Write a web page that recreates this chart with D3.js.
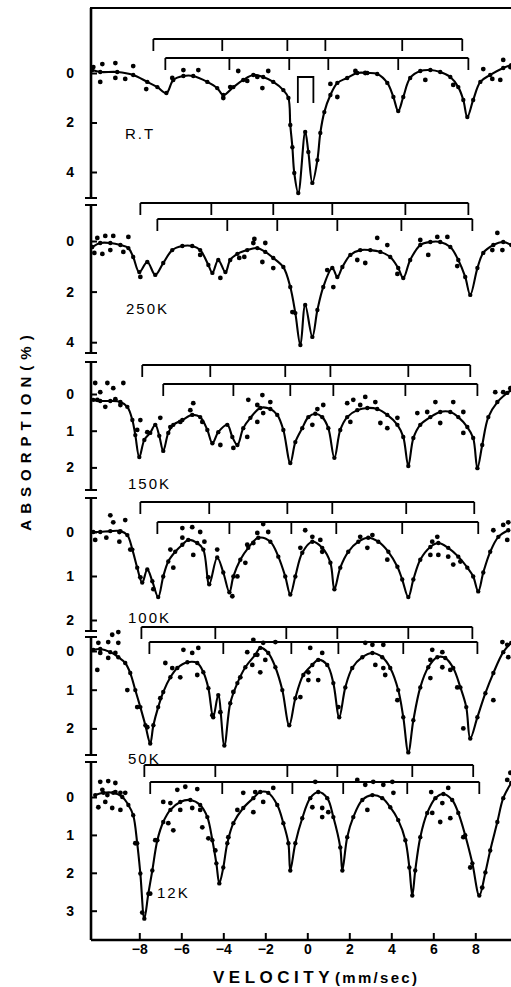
<!DOCTYPE html>
<html><head><meta charset="utf-8">
<script src="https://cdn.jsdelivr.net/npm/d3@7"></script>
<style>body{margin:0;background:#fff;overflow:hidden} svg{display:block}</style>
</head><body>
<script>
// ---------------- DATA ----------------
const panelLabels = ["R.T", "250K", "150K", "100K", "50K", "12K"];
const yTickValues = [[0, 2, 4], [0, 2, 4], [0, 1, 2], [0, 1, 2], [0, 1, 2], [0, 1, 2, 3]];
const xTickValues = [-8, -6, -4, -2, 0, 2, 4, 6, 8];

// fitted curves [velocity mm/s, absorption %]
const fitRT = [[-10.24,-0.12],[-9.86,-0.04],[-9.05,-0.04],[-8.29,0.08],[-7.62,0.36],[-7.14,0.57],[-6.71,0.81],[-6.38,0.28],[-5.90,0.12],[-5.43,0.12],[-4.76,0.36],[-4.29,0.61],[-4.0,0.89],[-3.52,0.57],[-3.05,0.28],[-2.57,0.08],[-2.10,0.16],[-1.62,0.36],[-1.14,0.69],[-0.90,1.01],[-0.81,2.10],[-0.71,3.0],[-0.62,4.04],[-0.43,4.85],[-0.10,2.38],[0.05,3.19],[0.24,4.44],[0.48,3.52],[0.62,2.42],[0.81,1.58],[1.10,0.89],[1.43,0.40],[1.90,0.20],[2.38,0.0],[2.86,0.0],[3.33,0.04],[3.81,0.40],[4.10,0.97],[4.33,1.54],[4.57,0.97],[4.90,0.20],[5.38,-0.08],[5.86,-0.12],[6.33,-0.04],[6.81,0.16],[7.19,0.57],[7.43,1.09],[7.62,1.78],[7.90,1.09],[8.24,0.36],[8.71,0.08],[9.33,-0.2],[9.71,-0.32]];
const dotsRT = [[-9.86,0.36],[-10.19,-0.24],[-9.76,-0.36],[-9.14,-0.40],[-9.14,0.20],[-8.67,0.24],[-8.29,-0.28],[-7.67,0.65],[-6.43,0.20],[-5.90,-0.12],[-5.19,-0.12],[-4.0,1.01],[-3.67,0.57],[-3.29,-0.08],[-2.86,0.32],[-2.38,0.16],[-2.14,0.61],[-1.86,-0.08],[1.10,0.44],[1.43,0.97],[2.29,-0.08],[2.76,0.0],[5.62,0.28],[6.95,0.48],[8.38,-0.16],[8.81,0.24],[9.19,0.28],[9.33,-0.53],[9.67,-0.24]];

const fit250 = [[-10.24,0.24],[-9.86,0.08],[-9.38,0.08],[-8.90,0.16],[-8.52,0.28],[-8.29,0.63],[-8.0,1.23],[-7.62,0.83],[-7.24,1.34],[-6.86,0.87],[-6.43,0.36],[-5.95,0.20],[-5.48,0.20],[-5.10,0.36],[-4.71,0.95],[-4.52,1.26],[-4.24,0.75],[-3.90,1.23],[-3.67,0.75],[-3.33,0.51],[-2.86,0.36],[-2.38,0.28],[-2.0,0.43],[-1.62,0.67],[-1.14,1.03],[-0.81,1.82],[-0.57,2.85],[-0.33,4.11],[-0.10,2.53],[0.24,3.79],[0.48,2.73],[0.76,1.82],[1.19,1.07],[1.43,1.42],[1.67,1.03],[2.05,0.55],[2.52,0.36],[3.0,0.36],[3.48,0.43],[3.95,0.63],[4.33,1.07],[4.57,1.46],[4.90,0.75],[5.38,0.16],[5.86,0.04],[6.33,0.04],[6.81,0.24],[7.19,0.75],[7.52,1.42],[7.76,2.13],[8.10,1.07],[8.38,0.47],[8.86,0.16],[9.33,0.04],[9.71,0.16]];
const dots250 = [[-10.0,-0.12],[-9.62,-0.2],[-9.24,-0.2],[-8.52,-0.16],[-10.14,0.47],[-9.76,0.51],[-9.38,0.36],[-8.76,0.43],[-7.95,1.42],[-5.10,0.55],[-4.14,1.46],[-3.24,0.67],[-3.0,0.63],[-2.57,0.08],[-2.52,-0.08],[-2.0,0.08],[-2.14,0.83],[-1.62,1.07],[-0.71,2.81],[0.95,1.15],[1.24,1.82],[2.38,0.75],[2.76,0.87],[3.33,-0.12],[3.81,0.16],[4.29,1.30],[5.38,-0.04],[5.76,0.55],[6.19,-0.16],[6.67,-0.16],[7.14,0.99],[9.05,-0.32],[8.81,0.36],[9.29,0.36]];

const fit150 = [[-10.19,0.16],[-9.86,0.19],[-9.38,0.19],[-8.90,0.22],[-8.57,0.35],[-8.33,0.71],[-8.19,1.12],[-8.0,1.72],[-7.76,1.25],[-7.48,1.06],[-7.24,0.84],[-7.05,1.14],[-6.86,1.55],[-6.62,1.06],[-6.38,0.84],[-5.95,0.71],[-5.48,0.57],[-5.10,0.63],[-4.76,0.98],[-4.52,1.34],[-4.24,1.04],[-3.81,0.84],[-3.57,1.17],[-3.33,1.39],[-3.05,0.93],[-2.71,0.65],[-2.24,0.38],[-1.76,0.41],[-1.43,0.57],[-1.14,0.98],[-0.81,1.88],[-0.57,1.31],[-0.24,0.93],[0.05,0.63],[0.38,0.54],[0.71,0.63],[1.0,0.93],[1.29,1.74],[1.57,0.98],[1.90,0.63],[2.38,0.44],[2.86,0.38],[3.33,0.41],[3.81,0.57],[4.29,0.84],[4.57,1.17],[4.81,1.96],[5.05,1.20],[5.38,0.84],[5.86,0.63],[6.33,0.49],[6.81,0.49],[7.19,0.63],[7.62,0.90],[7.90,1.20],[8.10,2.02],[8.33,1.39],[8.62,0.63],[9.05,0.22],[9.52,-0.03],[9.71,-0.11]];
const dots150 = [[-10.10,-0.30],[-9.86,-0.05],[-9.52,-0.30],[-9.24,-0.16],[-8.76,-0.30],[-10.0,0.16],[-9.62,0.35],[-9.14,0.14],[-8.90,0.30],[-8.10,0.98],[-7.95,0.71],[-7.62,1.04],[-7.0,0.65],[-6.52,0.90],[-6.05,0.76],[-5.57,0.44],[-5.43,0.25],[-5.0,0.76],[-4.14,1.39],[-3.52,1.47],[-2.86,1.17],[-2.81,0.16],[-2.38,0.30],[-2.38,0.76],[-2.10,0.52],[-1.76,0.22],[-2.14,0.03],[0.24,0.84],[0.48,0.41],[0.76,0.30],[1.90,0.25],[2.19,0.16],[2.76,0.08],[3.24,0.22],[2.52,0.30],[2.05,0.76],[3.48,0.79],[4.29,0.65],[3.81,0.93],[5.24,0.52],[5.71,0.49],[6.10,0.22],[6.95,0.22],[7.43,0.49],[6.33,0.79],[7.43,1.06],[8.95,-0.05],[9.33,-0.05],[9.67,-0.16]];

const fit100 = [[-10.19,0],[-9.86,0],[-9.38,-0.02],[-8.90,-0.02],[-8.57,0.07],[-8.33,0.40],[-8.10,0.81],[-7.86,1.15],[-7.62,0.85],[-7.38,1.12],[-7.10,1.48],[-6.86,1.01],[-6.62,0.67],[-6.29,0.45],[-5.95,0.29],[-5.67,0.18],[-5.24,0.25],[-4.95,0.40],[-4.67,1.19],[-4.29,0.58],[-4.0,0.92],[-3.71,1.37],[-3.52,1.01],[-3.19,0.63],[-2.81,0.36],[-2.33,0.13],[-1.76,0.22],[-1.38,0.56],[-1.05,1.01],[-0.81,1.42],[-0.57,1.01],[-0.24,0.47],[0.24,0.22],[0.71,0.36],[1.10,0.70],[1.29,1.30],[1.57,0.81],[1.95,0.45],[2.43,0.22],[2.90,0.13],[3.38,0.22],[3.86,0.45],[4.29,0.79],[4.52,1.08],[4.81,1.48],[5.05,1.08],[5.38,0.63],[5.86,0.34],[6.24,0.25],[6.71,0.36],[7.19,0.56],[7.62,0.81],[7.90,1.01],[8.14,1.35],[8.38,0.92],[8.71,0.45],[9.10,0.11],[9.57,-0.04]];
const dots100 = [[-10.10,0.18],[-9.57,0.13],[-9.38,-0.38],[-9.24,-0.22],[-8.95,0],[-8.95,0.22],[-8.67,-0.27],[-8.43,0.40],[-7.95,1.03],[-7.33,1.30],[-6.52,0.40],[-6.38,0.81],[-5.95,-0.09],[-5.95,0.13],[-5.48,-0.11],[-5.43,0.52],[-5.10,0],[-4.90,0.22],[-4.71,1.03],[-4.29,0.40],[-3.57,1.46],[-3.33,1.01],[-2.95,0.70],[-2.86,0.29],[-2.10,-0.18],[-2.38,0.02],[-1.86,0],[-2.57,0.25],[-0.10,-0.04],[0.24,0.11],[0.62,0.18],[0.71,0.45],[-0.33,0.36],[2.52,0.11],[2.86,0.36],[3.10,0.07],[3.81,0.63],[5.95,0.22],[6.19,0.11],[5.86,0.52],[6.24,0.52],[6.71,0.56],[6.95,0.74],[7.29,0.67],[8.86,-0.04],[9.33,-0.16],[9.52,0.18],[9.57,-0.22]];

const fit50 = [[-10.19,-0.03],[-9.86,-0.05],[-9.38,0.03],[-9.0,0.16],[-8.67,0.31],[-8.43,0.57],[-8.19,1.01],[-7.95,1.45],[-7.71,1.92],[-7.48,2.39],[-7.33,1.92],[-7.10,1.45],[-6.86,1.06],[-6.52,0.68],[-6.19,0.44],[-5.71,0.29],[-5.24,0.31],[-4.95,0.55],[-4.71,0.96],[-4.48,1.71],[-4.24,1.14],[-3.95,2.44],[-3.67,1.35],[-3.33,0.83],[-2.95,0.42],[-2.48,0.10],[-2.24,-0.08],[-1.86,0.05],[-1.52,0.42],[-1.19,1.01],[-0.86,1.92],[-0.57,1.22],[-0.19,0.62],[0.24,0.36],[0.52,0.23],[0.95,0.36],[1.24,0.83],[1.52,1.71],[1.81,0.94],[2.14,0.44],[2.62,0.16],[3.10,0.05],[3.57,0.16],[3.95,0.44],[4.33,1.01],[4.57,1.71],[4.81,2.62],[5.05,1.79],[5.38,0.94],[5.76,0.42],[6.19,0.16],[6.57,0.18],[6.95,0.44],[7.29,0.94],[7.57,1.45],[7.76,2.26],[8.10,1.71],[8.48,1.09],[8.86,0.57],[9.33,0.03],[9.71,-0.21]];
const dots50 = [[-9.95,-0.21],[-9.48,-0.23],[-9.29,-0.42],[-9.0,-0.49],[-9.0,-0.21],[-9.86,0.05],[-9.48,0.18],[-9.14,0.05],[-10.0,0.49],[-8.57,1.01],[-8.10,1.45],[-7.62,1.97],[-7.0,1.22],[-6.76,0.31],[-6.43,0.44],[-6.05,0.68],[-5.90,-0.03],[-5.48,0.05],[-5.19,-0.08],[-5.24,0.62],[-4.52,1.66],[-4.14,1.58],[-3.52,1.06],[-3.19,0.68],[-2.86,0.03],[-2.38,0.10],[-2.57,-0.29],[-2.10,-0.21],[-1.52,-0.23],[-2.62,0.36],[-2.24,0.55],[-2.0,0.23],[-0.33,1.19],[0.05,0.55],[0.05,0.75],[0.52,0.75],[0.14,-0.08],[0.71,0.05],[1.48,1.45],[2.76,-0.21],[3.10,-0.16],[3.62,-0.16],[3.24,0.36],[3.62,0.44],[3.71,0.62],[4.29,1.27],[5.95,-0.03],[6.43,0.03],[5.86,0.23],[6.43,0.42],[6.81,0.49],[5.86,0.70],[7.14,0.94],[7.43,2.0],[8.86,1.27],[9.29,-0.23],[9.52,-0.16],[9.57,0.16]];

const fit12 = [[-10.10,-0.05],[-9.71,-0.11],[-9.24,-0.11],[-8.81,0],[-8.52,0.21],[-8.29,0.48],[-8.10,1.22],[-7.95,2.02],[-7.76,3.21],[-7.57,2.55],[-7.38,1.94],[-7.14,1.14],[-6.86,0.66],[-6.52,0.34],[-6.05,0.13],[-5.57,0.08],[-5.10,0.21],[-4.76,0.53],[-4.52,1.14],[-4.33,1.75],[-4.19,2.28],[-4.0,1.86],[-3.81,1.22],[-3.52,0.69],[-3.05,0.29],[-2.57,0.03],[-2.24,-0.13],[-1.86,-0.11],[-1.43,0.21],[-1.14,0.69],[-0.90,1.22],[-0.81,1.94],[-0.57,1.22],[-0.24,0.56],[0.14,0.03],[0.52,-0.13],[0.95,0.03],[1.24,0.53],[1.57,1.33],[1.67,1.94],[1.90,1.06],[2.19,0.53],[2.62,0.08],[3.10,-0.05],[3.57,0.03],[3.95,0.27],[4.33,0.61],[4.67,1.14],[4.86,1.86],[5.0,2.60],[5.14,1.94],[5.38,1.06],[5.71,0.42],[6.10,0.03],[6.48,-0.08],[6.90,0.08],[7.19,0.42],[7.52,1.01],[7.86,1.75],[8.19,2.60],[8.48,1.99],[8.71,1.41],[9.05,0.66],[9.33,0.03],[9.71,-0.37]];
const dots12 = [[-9.86,-0.40],[-9.48,-0.42],[-9.14,-0.37],[-9.76,-0.19],[-9.52,-0.05],[-9.14,-0.13],[-8.90,-0.11],[-8.67,-0.11],[-9.95,0.27],[-9.62,0.13],[-9.29,0.29],[-8.90,0.34],[-8.19,1.22],[-7.86,3.05],[-7.48,2.55],[-7.24,1.14],[-6.86,0.13],[-6.52,0.16],[-6.62,0.69],[-6.38,0.88],[-6.19,-0.19],[-5.81,-0.27],[-5.24,-0.21],[-6.05,0.34],[-5.48,0.29],[-5.10,0.34],[-5.0,0.80],[-4.71,1.09],[-4.38,1.41],[-3.76,1.06],[-3.33,0.34],[-3.05,-0.11],[-2.48,-0.13],[-2.57,0.40],[-2.10,0.13],[-1.62,-0.24],[0.38,-0.40],[0.24,0.27],[0.71,0.29],[1.0,0.40],[0.71,0.53],[2.38,-0.45],[2.76,-0.32],[3.14,-0.40],[3.62,-0.32],[4.05,-0.40],[2.86,0.34],[4.10,-0.11],[5.90,-0.13],[6.71,-0.24],[6.43,0.16],[5.95,0.42],[6.33,0.66],[6.81,0.56],[7.43,1.06],[7.76,1.86],[8.33,2.39],[9.52,-0.45],[9.67,-0.64]];

// sextet stick diagrams (line positions, mm/s): upper and lower per panel
const sextetUpper = [[-7.33,-4.05,-0.95,0.86,4.52,7.38],[-7.95,-4.57,-1.62,1.19,4.67,7.67],[-7.86,-4.62,-1.05,1.10,4.81,7.76],[-7.95,-4.67,-0.95,1.19,4.71,7.95],[-7.90,-4.38,-1.0,1.43,4.81,7.86],[-7.76,-4.38,-0.95,1.43,5.0,7.90]];
const sextetLower = [[-6.76,-3.71,-0.86,1.0,4.33,7.67],[-7.14,-3.81,-1.43,1.43,4.48,7.86],[-6.86,-3.52,-0.81,1.24,4.67,8.10],[-7.14,-3.71,-0.76,1.38,4.52,8.14],[-7.52,-4.0,-0.76,1.48,4.57,8.10],[-7.48,-4.05,-0.71,1.71,4.76,8.19]];
const doubletRT = [-0.45, 0.29];

const fits = [fitRT, fit250, fit150, fit100, fit50, fit12];
const dots = [dotsRT, dots250, dots150, dots100, dots50, dots12];

// ---------------- LAYOUT ----------------
const W = 511, H = 987;
const AX = 91;              // left axis x
const XB = 940;             // bottom axis y
const panels = [
  {y0: 73,  k: 24.75, top: 8,   bot: 198, bU: 39,  bL: 58,  lx: 125, ly: 139},
  {y0: 241, k: 25.3,  top: 205, bot: 353, bU: 203, bL: 219, lx: 126, ly: 314},
  {y0: 394, k: 36.7,  top: 362, bot: 490, bU: 365, bL: 384, lx: 128, ly: 489},
  {y0: 532, k: 44.0,  top: 498, bot: 631, bU: 502, bL: 522, lx: 128, ly: 623},
  {y0: 651, k: 38.7,  top: 637, bot: 755, bU: 627, bL: 642, lx: 128, ly: 764},
  {y0: 797, k: 37.9,  top: 762, bot: XB,  bU: 765, bL: 782, lx: 157, ly: 898}
];
const FONT = "'Liberation Sans', Arial, Helvetica, sans-serif";

const x = d3.scaleLinear().domain([-10.3, 10.0]).range([AX, AX + 20.3 * 21]);

const svg = d3.select("body").append("svg").attr("width", W).attr("height", H)
  .style("font-family", FONT);

svg.append("defs").append("clipPath").attr("id", "clip")
  .append("rect").attr("x", AX).attr("y", 0).attr("width", W - AX).attr("height", H);

// top frame
svg.append("line").attr("x1", AX - 1).attr("x2", W).attr("y1", 8).attr("y2", 8)
  .attr("stroke", "#000").attr("stroke-width", 2);

panels.forEach((p, i) => {
  const y = d3.scaleLinear().domain([0, 1]).range([p.y0, p.y0 + p.k]);
  const g = svg.append("g");

  g.append("line").attr("x1", AX).attr("x2", AX).attr("y1", p.top).attr("y2", p.bot)
    .attr("stroke", "#000").attr("stroke-width", 2.6);
  if (i > 0) {
    g.append("line").attr("x1", AX - 6).attr("x2", AX + 6).attr("y1", p.top).attr("y2", p.top)
      .attr("stroke", "#000").attr("stroke-width", 2);
  }
  if (i < panels.length - 1) {
    g.append("line").attr("x1", AX - 6).attr("x2", AX + 6).attr("y1", p.bot).attr("y2", p.bot)
      .attr("stroke", "#000").attr("stroke-width", 2);
  }

  const ax = d3.axisLeft(y).tickValues(yTickValues[i]).tickSizeInner(-6).tickSizeOuter(0).tickPadding(17)
    .tickFormat(d3.format("d"));
  const ag = g.append("g").attr("transform", `translate(${AX},0)`).call(ax);
  ag.select(".domain").remove();
  ag.selectAll(".tick line").attr("stroke", "#000").attr("stroke-width", 2);
  ag.selectAll(".tick text").attr("fill", "#000").style("font-size", "14px").style("font-weight", "bold")
    .style("font-family", FONT);

  [[sextetUpper[i], p.bU], [sextetLower[i], p.bL]].forEach(([lines, by]) => {
    const bg = g.append("g").attr("stroke", "#000").attr("stroke-width", 1.8).attr("fill", "none");
    bg.append("line").attr("x1", x(d3.min(lines))).attr("x2", x(d3.max(lines)))
      .attr("y1", by).attr("y2", by);
    bg.selectAll("line.t").data(lines).join("line").attr("class", "t")
      .attr("x1", d => x(d)).attr("x2", d => x(d)).attr("y1", by).attr("y2", by + 12);
  });
  if (i === 0) {
    const top = 77, bot = 103;
    g.append("path").attr("fill", "none").attr("stroke", "#000").attr("stroke-width", 1.8)
      .attr("d", `M${x(doubletRT[0])},${bot}V${top}H${x(doubletRT[1])}V${bot}`);
  }

  const cg = g.append("g").attr("clip-path", "url(#clip)");
  const line = d3.line().curve(d3.curveCatmullRom.alpha(0.5)).x(d => x(d[0])).y(d => y(d[1]));
  cg.append("path").datum(fits[i]).attr("d", line).attr("fill", "none")
    .attr("stroke", "#000").attr("stroke-width", 2.1).attr("stroke-linejoin", "round");
  cg.selectAll("circle.f").data(fits[i]).join("circle").attr("class", "f")
    .attr("cx", d => x(d[0])).attr("cy", d => y(d[1])).attr("r", 2.2).attr("fill", "#000");
  cg.selectAll("circle.d").data(dots[i]).join("circle").attr("class", "d")
    .attr("cx", d => x(d[0])).attr("cy", d => y(d[1])).attr("r", 2.4).attr("fill", "#000");

  g.append("text").attr("x", p.lx).attr("y", p.ly).text(panelLabels[i])
    .style("font-size", "15px").style("letter-spacing", "2px").attr("fill", "#000");
});

// bottom axis
const xa = d3.axisBottom(x).tickValues(xTickValues).tickSizeInner(-7).tickSizeOuter(0).tickPadding(4)
  .tickFormat(d => d < 0 ? "\u2212" + Math.abs(d) : String(d));
const xg = svg.append("g").attr("transform", `translate(0,${XB})`).call(xa);
xg.select(".domain").remove();
xg.append("line").attr("x1", AX).attr("x2", W).attr("y1", 0).attr("y2", 0)
  .attr("stroke", "#000").attr("stroke-width", 2.4);
xg.selectAll(".tick line").attr("stroke", "#000").attr("stroke-width", 2);
xg.selectAll(".tick text").attr("fill", "#000").style("font-size", "14px").style("font-weight", "bold")
  .style("font-family", FONT);

// axis titles
const xt = svg.append("text").attr("x", 213).attr("y", 983).attr("text-anchor", "start")
  .style("font-weight", "bold").attr("fill", "#000");
xt.append("tspan").text("VELOCITY").style("font-size", "17px").style("letter-spacing", "4.5px");
xt.append("tspan").attr("dx", 1).text("(mm/sec)").style("font-size", "15px").style("letter-spacing", "2.3px");

svg.append("text").attr("transform", "translate(31,430) rotate(-90)").attr("text-anchor", "middle")
  .text("ABSORPTION(%)").style("font-size", "15px").style("font-weight", "bold")
  .style("letter-spacing", "6px").attr("fill", "#000");
</script>
</body></html>
